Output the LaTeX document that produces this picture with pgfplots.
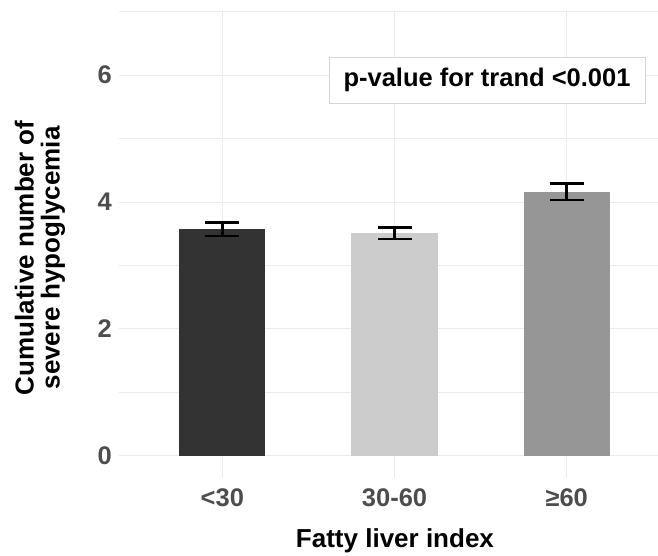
\documentclass[border=0pt]{standalone}
\usepackage{fontspec}
\setmainfont{Liberation Sans}
\usepackage{pgfplots}
\pgfplotsset{compat=1.18}
\definecolor{bar1}{HTML}{333333}
\definecolor{bar2}{HTML}{CCCCCC}
\definecolor{bar3}{HTML}{969696}
\definecolor{gridc}{HTML}{EBEBEB}
\definecolor{tickc}{HTML}{4D4D4D}
\begin{document}
\begin{tikzpicture}
\path[use as bounding box] (0,0) rectangle (658pt,555pt);
\begin{axis}[
  at={(119pt,77pt)}, anchor=south west,
  scale only axis, width=539pt, height=466.3pt,
  xmin=0.4, xmax=3.53, ymin=-0.35, ymax=7,
  axis line style={draw=none},
  major tick length=0pt, minor tick length=0pt,
  xtick={1,2,3}, xticklabels={<30,30-60,≥60},
  ytick={0,2,4,6}, minor ytick={1,3,5,7},
  grid=both,
  major grid style={gridc, line width=1pt},
  minor grid style={gridc, line width=0.8pt},
  ticklabel style={font=\fontsize{25.5}{28}\selectfont\bfseries, text=tickc},
  yticklabel style={inner sep=0pt, xshift=-7pt},
  xticklabel style={inner sep=0pt, yshift=-21pt, text height=0.72em, text depth=0.2em},
  /pgf/number format/assume math mode=true,
  xlabel={Fatty liver index},
  xlabel style={at={(axis description cs:0.512,-0.148)}, anchor=base, font=\fontsize{26}{28}\selectfont\bfseries},
  ylabel={Cumulative number of\\severe hypoglycemia},
  ylabel style={at={(axis description cs:-0.1466,0.472)}, anchor=center, rotate=0, align=center, font=\fontsize{26}{26}\selectfont\bfseries},
  ybar, bar width=0.5, bar shift=0pt,
  error bars/y dir=both, error bars/y explicit,
  error bars/error bar style={line width=2.6pt, black},
  error bars/error mark options={rotate=90, mark size=17pt, line width=2.6pt, black},
  clip=false,
]
\addplot[draw=none, fill=bar1] coordinates {(1,3.57) +- (0,0.105)};
\addplot[draw=none, fill=bar2] coordinates {(2,3.51) +- (0,0.09)};
\addplot[draw=none, fill=bar3] coordinates {(3,4.16) +- (0,0.13)};
\node[draw=gridc!80!gray, line width=0.8pt, fill=white, minimum width=316pt, minimum height=46pt, inner sep=0pt,
  font=\fontsize{25.5}{28}\selectfont\bfseries, text=black] at (axis cs:2.537,5.92) {p-value for trand <0.001};
\end{axis}
\end{tikzpicture}
\end{document}
